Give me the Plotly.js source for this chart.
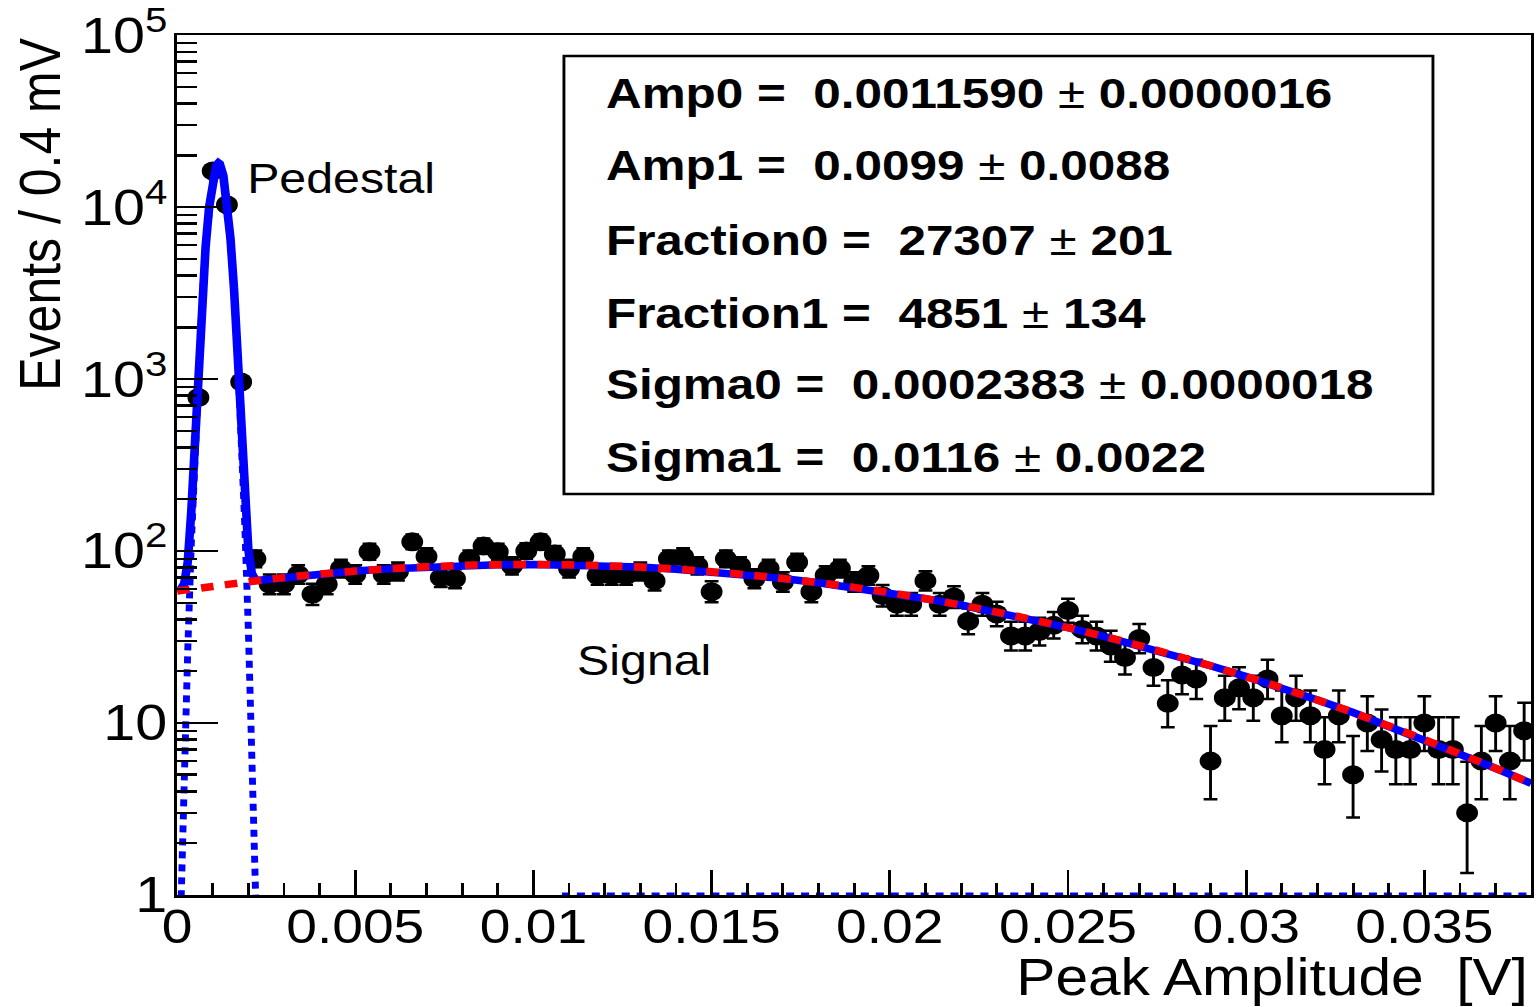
<!DOCTYPE html>
<html>
<head>
<meta charset="utf-8">
<script src="https://cdn.plot.ly/plotly-3.0.1.min.js"></script>
<style>
  html, body { margin: 0; padding: 0; background: #ffffff; overflow: hidden; }
  #wrap { width: 1537px; height: 1007px; overflow: hidden; }
  #plot { width: 1337px; height: 1007px; transform: scaleX(1.1496); transform-origin: 0 0; }
</style>
</head>
<body>
<div id="wrap"><div id="plot"></div></div>
<script>
// ---- data: histogram bins (0.4 mV wide), centers in V ----
const binCenters = [0.0006,0.0010,0.0014,0.0018,0.0022,0.0026,0.0030,0.0034,0.0038,0.0042,
  0.0046,0.0050,0.0054,0.0058,0.0062,0.0066,0.0070,0.0074,0.0078,0.0082,
  0.0086,0.0090,0.0094,0.0098,0.0102,0.0106,0.0110,0.0114,0.0118,0.0122,
  0.0126,0.0130,0.0134,0.0138,0.0142,0.0146,0.0150,0.0154,0.0158,0.0162,
  0.0166,0.0170,0.0174,0.0178,0.0182,0.0186,0.0190,0.0194,0.0198,0.0202,
  0.0206,0.0210,0.0214,0.0218,0.0222,0.0226,0.0230,0.0234,0.0238,0.0242,
  0.0246,0.0250,0.0254,0.0258,0.0262,0.0266,0.0270,0.0274,0.0278,0.0282,
  0.0286,0.0290,0.0294,0.0298,0.0302,0.0306,0.0310,0.0314,0.0318,0.0322,
  0.0326,0.0330,0.0334,0.0338,0.0342,0.0346,0.0350,0.0354,0.0358,0.0362,
  0.0366,0.0370,0.0374,0.0378];
const counts = [780,16200,10300,960,90,64,64,73,56,64,
  79,73,99,73,76,113,93,70,69,90,
  107,99,82,100,113,96,79,93,72,72,
  72,76,67,90,93,82,58,90,82,69,
  79,66,86,58,72,79,66,72,55,49,
  49,67,49,54,39,49,43,32,32,34,
  37,45,35,32,28,24,31,21,13,19,
  18,6,14,16,14,18,11,14,11,7,
  11,5,10,8,7,7,10,7,7,3,
  6,10,6,9];
const errUp = [28.9,128.3,102.5,32.0,10.53,9.05,9.05,9.59,8.53,9.05,
  9.93,9.59,10.99,9.59,9.76,11.67,10.68,9.41,9.35,10.53,
  11.38,10.99,10.10,11.04,11.67,10.84,9.93,10.68,9.53,9.53,
  9.53,9.76,9.23,10.53,10.68,10.10,8.67,10.53,10.10,9.35,
  9.93,9.17,10.31,8.67,9.53,9.93,9.17,9.53,8.47,8.05,
  8.05,9.23,8.05,8.40,7.31,8.05,7.61,6.72,6.72,6.90,
  7.14,7.76,6.98,6.72,6.36,5.97,6.64,5.66,4.71,5.44,
  5.33,3.60,4.84,5.09,4.84,5.33,4.43,4.84,4.43,3.78,
  4.43,3.40,4.28,3.96,3.78,3.78,4.28,3.78,3.78,2.94,
  3.60,4.28,3.60,4.12];
const errDown = [27.9,127.3,101.5,31.0,9.47,7.98,7.98,8.53,7.47,7.98,
  8.87,8.53,9.94,8.53,8.70,10.62,9.63,8.35,8.29,9.47,
  10.33,9.94,9.04,9.99,10.62,9.79,8.87,9.63,8.47,8.47,
  8.47,8.70,8.17,9.47,9.63,9.04,7.60,9.47,9.04,8.29,
  8.87,8.11,9.26,7.60,8.47,8.87,8.11,8.47,7.40,6.98,
  6.98,8.17,6.98,7.33,6.22,6.98,6.54,5.63,5.63,5.81,
  6.06,6.69,5.89,5.63,5.27,4.87,5.55,4.56,3.57,4.33,
  4.21,2.40,3.71,3.97,3.71,4.21,3.28,3.71,3.28,2.60,
  3.28,2.18,3.12,2.78,2.60,2.60,3.12,2.60,2.60,1.66,
  2.40,3.12,2.40,2.96];

// ---- fitted curves ----
const sigX = [0,0.001,0.002,0.003,0.004,0.005,0.006,0.007,0.008,0.009,
  0.010,0.011,0.012,0.013,0.014,0.015,0.016,0.017,0.018,0.019,
  0.020,0.021,0.022,0.023,0.024,0.025,0.026,0.027,0.028,0.029,
  0.030,0.031,0.032,0.033,0.034,0.035,0.036,0.037,0.038];
const sigY = [58.5,62.2,66.2,70.0,73.4,76.4,78.9,80.9,82.4,83.2,
  83.5,83.1,82.1,80.6,78.4,75.8,72.7,69.2,65.4,61.4,
  57.2,52.8,48.5,44.1,39.9,35.8,31.9,28.2,24.7,21.5,
  18.6,16.0,13.6,11.5,9.6,8.0,6.6,5.45,4.45];

const pedX = [0,0.0001,0.0002,0.0003,0.0004,0.0005,0.0006,0.0007,0.0008,0.0009,
  0.0010,0.0011,0.00116,0.0012,0.0013,0.0014,0.0015,0.0016,0.0017,0.0018,
  0.0019,0.0020,0.0021,0.0022,0.0023];
const pedY = [0.12,0.89,5.3,26.3,110,385,1131,2781,5733,9911,
  14359,17437,18000,17748,15140,10831,6487,3259,1372,484,
  143,35.5,7.4,1.28,0.19];

const totX = [0,0.0001,0.0002,0.0003,0.0004,0.0005,0.0006,0.0007,0.0008,0.0009,
  0.0010,0.0011,0.00116,0.0012,0.0013,0.0014,0.0015,0.0016,0.0017,0.0018,
  0.0019,0.0020,0.0021,0.0022,0.0023,
  0.003,0.004,0.005,0.006,0.007,0.008,0.009,0.010,0.011,0.012,
  0.013,0.014,0.015,0.016,0.017,0.018,0.019,0.020,0.021,0.022,
  0.023,0.024,0.025,0.026,0.027,0.028,0.029,0.030,0.031,0.032,
  0.033,0.034,0.035,0.036,0.037,0.038];
const totY = [58.5,59.7,64.5,86,170,445,1190,2840,5800,9970,
  14420,17500,18060,17810,15200,10900,6550,3320,1440,550,
  210,102,74,68,67.5,
  70.0,73.4,76.4,78.9,80.9,82.4,83.2,83.5,83.1,82.1,
  80.6,78.4,75.8,72.7,69.2,65.4,61.4,57.2,52.8,48.5,
  44.1,39.9,35.8,31.9,28.2,24.7,21.5,18.6,16.0,13.6,
  11.5,9.6,8.0,6.6,5.45,4.45];

const floorX = [0.0108, 0.038];
const floorY = [1, 1];

// ---- axis ticks ----
const xTickVals = [0, 0.005, 0.01, 0.015, 0.02, 0.025, 0.03, 0.035];
const xTickText = ['0', '0.005', '0.01', '0.015', '0.02', '0.025', '0.03', '0.035'];
const yTickVals = [1, 10, 100, 1000, 10000, 100000];
const yTickText = ['1', '10', '10<sup>2</sup>', '10<sup>3</sup>', '10<sup>4</sup>', '10<sup>5</sup>'];

// ---- fit parameter box ----
const parNames  = ['Amp0','Amp1','Fraction0','Fraction1','Sigma0','Sigma1'];
const parValues = ['0.0011590','0.0099','27307','4851','0.0002383','0.0116'];
const parErrors = ['0.0000016','0.0088','201','134','0.0000018','0.0022'];

const FONT = 'Liberation Sans, Arial, Helvetica, sans-serif';
const NB = '\u00A0';

const traces = [
  {
    x: binCenters, y: counts, type: 'scatter', mode: 'markers',
    marker: {symbol: 'circle', size: 19, color: '#000000'},
    error_y: {type: 'data', symmetric: false, array: errUp, arrayminus: errDown,
              color: '#000000', thickness: 2.5, width: 6},
    showlegend: false
  },
  {
    x: pedX, y: pedY, type: 'scatter', mode: 'lines',
    line: {color: '#0000ff', width: 6, dash: '7px,6px'}, showlegend: false
  },
  {
    x: totX, y: totY, type: 'scatter', mode: 'lines',
    line: {color: '#0000ff', width: 7.5}, showlegend: false
  },
  {
    x: sigX, y: sigY, type: 'scatter', mode: 'lines',
    line: {color: '#ff0000', width: 7.5, dash: '11px,10px', shape: 'spline'}, showlegend: false
  },
  {
    x: floorX, y: floorY, type: 'scatter', mode: 'lines',
    line: {color: '#0000ff', width: 5, dash: '7px,6px'}, showlegend: false
  }
];

const annotations = [];
const lineY = [0.9326, 0.8488, 0.7616, 0.6767, 0.5942, 0.5093];
for (let i = 0; i < parNames.length; i++) {
  annotations.push({
    xref: 'paper', yref: 'paper', x: 0.3150, y: lineY[i],
    xanchor: 'left', yanchor: 'middle', showarrow: false,
    text: '<b>' + parNames[i] + ' =' + NB + NB + parValues[i] + NB + '</b>\u00B1<b>' + NB + parErrors[i] + '</b>',
    font: {family: FONT, size: 43, color: '#000000'}
  });
}
annotations.push({
  xref: 'paper', yref: 'paper', x: -0.1012, y: 1.0, xanchor: 'center', yanchor: 'top',
  textangle: -90, showarrow: false, text: 'Events / 0.4 mV',
  font: {family: FONT, size: 50, color: '#000000'}
});
annotations.push({
  xref: 'paper', yref: 'paper', x: 0.999, y: -0.0955, xanchor: 'right', yanchor: 'middle',
  showarrow: false, text: 'Peak Amplitude' + NB + NB + '[V]',
  font: {family: FONT, size: 51, color: '#000000'}
});
annotations.push({
  xref: 'paper', yref: 'paper', x: 0.0500, y: 0.8337, xanchor: 'left', yanchor: 'middle',
  showarrow: false, text: 'Pedestal',
  font: {family: FONT, size: 42, color: '#000000'}
});
annotations.push({
  xref: 'paper', yref: 'paper', x: 0.2935, y: 0.2721, xanchor: 'left', yanchor: 'middle',
  showarrow: false, text: 'Signal',
  font: {family: FONT, size: 42, color: '#000000'}
});

const layout = {
  width: 1337, height: 1007,
  margin: {l: 154, r: 5, t: 35, b: 112, pad: 0},
  paper_bgcolor: '#ffffff', plot_bgcolor: '#ffffff',
  showlegend: false,
  xaxis: {
    range: [0, 0.038], showgrid: false, zeroline: false,
    showline: true, linecolor: '#000000', linewidth: 2.5, mirror: true,
    ticks: 'inside', ticklen: 25, tickwidth: 2.5, tickcolor: '#000000',
    tickmode: 'array', tickvals: xTickVals, ticktext: xTickText, tickangle: 0,
    ticklabelstandoff: -12, ticklabeloverflow: 'allow',
    tickfont: {family: FONT, size: 48, color: '#000000'},
    minor: {ticks: 'inside', ticklen: 12, tickwidth: 2.5, tickcolor: '#000000',
            tickmode: 'linear', tick0: 0, dtick: 0.001, showgrid: false}
  },
  yaxis: {
    type: 'log', range: [-0.0005, 5.0005], showgrid: false, zeroline: false,
    showline: true, linecolor: '#000000', linewidth: 2.5, mirror: true,
    ticks: 'inside', ticklen: 36, tickwidth: 2.5, tickcolor: '#000000',
    tickmode: 'array', tickvals: yTickVals, ticktext: yTickText,
    ticklabelstandoff: -4, ticklabeloverflow: 'allow',
    tickfont: {family: FONT, size: 50, color: '#000000'},
    minor: {ticks: 'inside', ticklen: 17, tickwidth: 2.5, tickcolor: '#000000',
            tickmode: 'linear', tick0: 0, dtick: 'D1', showgrid: false}
  },
  shapes: [{
    type: 'rect', xref: 'paper', yref: 'paper',
    x0: 0.2857, x1: 0.9274, y0: 0.4663, y1: 0.9756,
    line: {color: '#000000', width: 2.5}, fillcolor: 'rgba(0,0,0,0)'
  }],
  annotations: annotations
};

Plotly.newPlot('plot', traces, layout, {staticPlot: true, displayModeBar: false});
</script>
</body>
</html>
